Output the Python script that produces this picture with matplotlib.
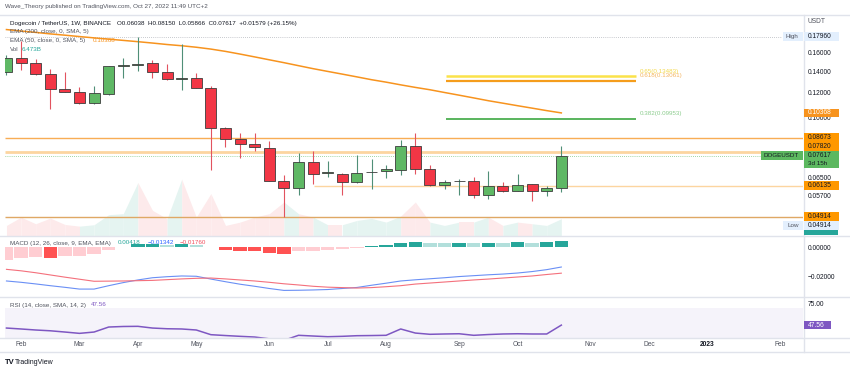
import datetime as dt
import matplotlib
matplotlib.use('Agg')
import matplotlib.pyplot as plt
import matplotlib.transforms as mtransforms
from matplotlib.patches import Rectangle
from matplotlib.lines import Line2D
from matplotlib.ticker import FixedLocator, NullLocator, FixedFormatter
import numpy as np

plt.rcParams['font.family'] = ['Liberation Sans', 'DejaVu Sans']

W, H = 850, 371

# weekly DOGE/USDT (Binance) candles, first bar = week of 2022-01-31
start = dt.date(2022, 1, 31)
opens = [0.1394, 0.1542, 0.1481, 0.1368, 0.1230, 0.1207, 0.1110, 0.1187, 0.1452, 0.1463,
         0.1481, 0.1394, 0.1322, 0.1329, 0.1242, 0.0930, 0.0858, 0.0827, 0.0808, 0.0635,
         0.0603, 0.0728, 0.0672, 0.0669, 0.0630, 0.0676, 0.0681, 0.0689, 0.0815, 0.0691,
         0.0618, 0.0633, 0.0635, 0.0575, 0.0611, 0.0590, 0.0620, 0.0589, 0.06038]
highs = [0.1572, 0.1740, 0.1528, 0.1421, 0.1394, 0.1251, 0.1257, 0.1458, 0.1535, 0.1796,
         0.1517, 0.1470, 0.1702, 0.1378, 0.1257, 0.0935, 0.0900, 0.0894, 0.0845, 0.0661,
         0.0777, 0.0786, 0.0732, 0.0671, 0.0768, 0.0742, 0.0711, 0.0851, 0.0897, 0.0714,
         0.0641, 0.0646, 0.0653, 0.0682, 0.0630, 0.0669, 0.0623, 0.0612, 0.08150]
lows = [0.1361, 0.1411, 0.1361, 0.1070, 0.1204, 0.1102, 0.1102, 0.1178, 0.1329, 0.1404,
        0.1335, 0.1313, 0.1221, 0.1237, 0.0686, 0.0811, 0.0749, 0.0786, 0.0633, 0.04914,
        0.0575, 0.0623, 0.0653, 0.0575, 0.0627, 0.0601, 0.0650, 0.0665, 0.0669, 0.0612,
        0.0601, 0.0575, 0.0561, 0.0556, 0.0587, 0.0589, 0.0549, 0.0570, 0.05866]
closes = [0.1542, 0.1481, 0.1368, 0.1230, 0.1208, 0.1110, 0.1193, 0.1452, 0.1463, 0.1479,
          0.1394, 0.1319, 0.1329, 0.1242, 0.0930, 0.0858, 0.0827, 0.0811, 0.0635, 0.0603,
          0.0728, 0.0669, 0.0676, 0.0630, 0.0674, 0.0679, 0.0691, 0.0815, 0.0691, 0.0615,
          0.0630, 0.0636, 0.0572, 0.0611, 0.0590, 0.0618, 0.0589, 0.0603, 0.07617]
volume_b = [3.88, 7.09, 4.53, 6.71, 4.26, 3.60, 4.15, 8.02, 8.41, 20.43,
            9.69, 6.47, 21.71, 7.09, 16.16, 3.88, 5.16, 7.09, 8.41, 12.91,
            8.41, 7.09, 4.15, 4.15, 5.81, 6.59, 5.16, 7.48, 12.91, 5.16,
            3.88, 5.16, 5.16, 7.09, 3.88, 5.16, 4.53, 3.88, 6.473]
ema50 = [0.1890, 0.1870, 0.1852, 0.1832, 0.1815, 0.1797, 0.1780, 0.1764, 0.1748, 0.1732,
         0.1715, 0.1697, 0.1682, 0.1664, 0.1642, 0.1615, 0.1584, 0.1552, 0.1520, 0.1489,
         0.1457, 0.1426, 0.1398, 0.1371, 0.1344, 0.1317, 0.1294, 0.1269, 0.1246, 0.1225,
         0.1201, 0.1178, 0.1155, 0.1132, 0.1112, 0.1092, 0.1073, 0.1054, 0.10368]
macd_line = [-0.0229, -0.0238, -0.0249, -0.0261, -0.0272, -0.0284, -0.0284, -0.0261, -0.0240, -0.0222,
             -0.0207, -0.0200, -0.0195, -0.0197, -0.0216, -0.0234, -0.0251, -0.0265, -0.0280, -0.0293,
             -0.0292, -0.0290, -0.0287, -0.0280, -0.0273, -0.0258, -0.0244, -0.0229, -0.0221, -0.0214,
             -0.0207, -0.0199, -0.0193, -0.0187, -0.0182, -0.0175, -0.0165, -0.0152, -0.01342]
macd_signal = [-0.0150, -0.0160, -0.0173, -0.0188, -0.0203, -0.0217, -0.0231, -0.0230, -0.0229, -0.0227,
               -0.0225, -0.0220, -0.0215, -0.0211, -0.0209, -0.0215, -0.0222, -0.0229, -0.0238, -0.0248,
               -0.0256, -0.0265, -0.0271, -0.0274, -0.0277, -0.0274, -0.0268, -0.0261, -0.0250, -0.0243,
               -0.0236, -0.0229, -0.0222, -0.0216, -0.0209, -0.0202, -0.0195, -0.0185, -0.01760]
macd_hist = [-0.0084, -0.0073, -0.0068, -0.0071, -0.0061, -0.0060, -0.0045, -0.0020, 0.0003, 0.0020,
             0.0021, 0.0015, 0.0023, 0.0014, 0.0002, -0.0016, -0.0027, -0.0028, -0.0041, -0.0045,
             -0.0027, -0.0023, -0.0018, -0.0011, -0.0005, 0.0007, 0.0014, 0.0032, 0.0033, 0.0027,
             0.0026, 0.0032, 0.0029, 0.0032, 0.0029, 0.0033, 0.0031, 0.0034, 0.00418]
rsi = [43.8, 42.6, 41.3, 40.3, 38.7, 37.0, 38.7, 45.1, 45.8, 46.0,
       43.8, 42.9, 42.6, 41.3, 35.3, 34.2, 33.2, 32.3, 30.0, 28.0,
       34.5, 33.6, 32.7, 33.2, 34.0, 34.2, 34.5, 42.6, 37.4, 35.8,
       36.2, 36.5, 34.5, 35.5, 36.2, 36.5, 36.2, 36.2, 47.56]

# horizontal support / resistance levels and fib retracements
levels = [0.08673, 0.07820, 0.06135, 0.04914]
fib_names = ['0.65', '0.618', '0.382']
fib_values = [0.13483, 0.13061, 0.09953]
price_ticks = [0.16, 0.14, 0.12, 0.10, 0.065, 0.057]

opens, highs, lows, closes = map(np.array, (opens, highs, lows, closes))
idx = np.arange(len(closes))
up = closes >= opens
XLIM = (-0.1, 54.55)
FS = 4.5      # legend text size
AFS = 4.8     # price scale text size

fig = plt.figure(figsize=(8.5, 3.71), dpi=100)


def rect(x0, y0, x1, y1):
    return [x0 / W, 1 - y1 / H, (x1 - x0) / W, (y1 - y0) / H]


def ftxt(x, y, s, **kw):
    kw.setdefault('fontsize', FS)
    kw.setdefault('va', 'center')
    return fig.text(x / W, 1 - y / H, s, **kw)


def ypx(axis, value):
    return H - axis.transData.transform((0, value))[1]


def box(x0, ymid, w, h, fc, text=None, tc='#131722', tx=4.5, fs=AFS):
    fig.add_artist(Rectangle((x0 / W, 1 - (ymid + h / 2) / H), w / W, h / H,
                             transform=fig.transFigure, fc=fc, ec='none', zorder=5))
    if text:
        t = ftxt(x0 + tx, ymid, text, color=tc, fontsize=fs)
        t.set_zorder(6)


def clean(a):
    for s in a.spines.values():
        s.set_visible(False)
    a.set_xlim(XLIM)
    a.set_xticks([])


# ---- main pane ----
ax_vol = fig.add_axes(rect(5, 15, 803, 235.5))
ax = fig.add_axes(rect(5, 15, 803, 235.5))
ax.patch.set_alpha(0)

for i in range(1, len(volume_b)):
    c = '#e5f4f1' if up[i] else '#fdeaeb'
    ax_vol.fill_between([i - 1, i], [volume_b[i - 1], volume_b[i]], 0, color=c, lw=0)
ax_vol.set_xlim(XLIM)
ax_vol.set_ylim(0, 85)
ax_vol.axis('off')

ax.set_yscale('log')
ax.hlines(levels, [XLIM[0], XLIM[0], 21.05, XLIM[0]], XLIM[1],
          colors=['#f8ad55', '#fcd5a0', '#fcd5a0', '#dfa865'], lw=[1.0, 2.0, 1.0, 1.0], zorder=1)
ax.hlines(fib_values, 30.1, 43.1, colors=['#fbe24a', '#f59d1c', '#4caf50'], lw=[1.8, 1.6, 1.3], zorder=1)
lab_tr = ax.transData + mtransforms.ScaledTranslation(0, 0.052, fig.dpi_scale_trans)
for n, v, c in zip(fib_names, fib_values, ['#f3d84c', '#f4b460', '#8ccc8e']):
    ax.text(43.4, v, f'{n}({v:.5f})', color=c, fontsize=FS, va='center', transform=lab_tr)

ax.hlines(highs.max(), XLIM[0], 53.1, colors='#9598a1', lw=0.5, linestyles=(0, (1, 2)))
ax.axhline(closes[-1], color='#4caf50', lw=0.5, ls=(0, (1, 2)))

ax.plot(idx, ema50, color='#f7931e', lw=1.1, zorder=2)

ax.vlines(idx, lows, highs, colors=np.where(up, '#4f8f77', '#e2535f'), lw=0.8, zorder=3)
ax.bar(idx, np.abs(closes - opens), bottom=np.minimum(opens, closes), width=0.76,
       color=np.where(up, '#5fb865', '#f23645'), edgecolor='#3c3c3c', linewidth=0.6, zorder=4)

ax.set_ylim(0.04287, 0.2099)
clean(ax)
ax.yaxis.tick_right()
ax.yaxis.set_major_locator(FixedLocator(price_ticks))
ax.yaxis.set_major_formatter(FixedFormatter([f'{v:.5f}' for v in price_ticks]))
ax.yaxis.set_minor_locator(NullLocator())
ax.tick_params(axis='y', length=0, pad=3.6, labelsize=AFS, labelcolor='#131722')

# ---- MACD pane ----
axm = fig.add_axes(rect(5, 236.5, 803, 296))
hcols = []
for i, h in enumerate(macd_hist):
    prev = macd_hist[i - 1] if i else h
    if h >= 0:
        hcols.append('#26a69a' if h >= prev else '#b2dfdb')
    else:
        hcols.append('#ff5252' if h < prev else '#ffcdd2')
axm.bar(idx, macd_hist, width=0.92, color=hcols, lw=0)
axm.plot(idx, macd_line, color='#6a8ff5', lw=0.8)
axm.plot(idx, macd_signal, color='#f4707c', lw=0.8)
axm.set_ylim(-0.0331, 0.0073)
clean(axm)
axm.yaxis.tick_right()
axm.set_yticks([0, -0.02], ['0.00000', '\u22120.02000'])
axm.tick_params(axis='y', length=0, pad=3.6, labelsize=AFS, labelcolor='#131722')

# ---- RSI pane ----
axr = fig.add_axes(rect(5, 297.5, 803, 337.5))
axr.axhspan(30, 70, color='#7e57c2', alpha=0.07, lw=0)
axr.plot(idx, rsi, color='#7e57c2', lw=1.1)
axr.set_ylim(31.7, 82.9)
clean(axr)
axr.yaxis.tick_right()
axr.set_yticks([75], ['75.00'])
axr.tick_params(axis='y', length=0, pad=3.6, labelsize=AFS, labelcolor='#131722')

weeks = [start + dt.timedelta(weeks=k) for k in range(56)]
tick_pos, tick_lab = [], []
for k in range(1, len(weeks)):
    if weeks[k].month != weeks[k - 1].month:
        tick_pos.append(k)
        tick_lab.append(str(weeks[k].year) if weeks[k].month == 1 else weeks[k].strftime('%b'))
axr.set_xticks(tick_pos, tick_lab)
axr.tick_params(axis='x', length=0, pad=2.6, labelsize=AFS, labelcolor='#50535e')
for t in axr.get_xticklabels():
    if t.get_text().isdigit():
        t.set_fontweight('bold')
        t.set_color('#131722')

# ---- frame lines ----
for y in (14.5, 236, 297, 337.5, 352):
    fig.add_artist(Line2D([0, 1], [1 - y / H] * 2, transform=fig.transFigure, color='#e0e3eb', lw=1))
fig.add_artist(Line2D([803.5 / W] * 2, [1 - 14.5 / H, 1 - 352 / H], transform=fig.transFigure,
                      color='#e0e3eb', lw=1))

# ---- price scale tags ----
ftxt(808, 21.7, 'USDT', color='#50535e', fontsize=AFS)
y_hi = ypx(ax, highs.max())
box(783, y_hi, 19.5, 8.5, '#e3effd', 'High', tc='#50535e', tx=2.5, fs=FS)
box(803.5, y_hi, 35, 8.5, '#e3effd', f'{highs.max():.5f}')
box(803.5, ypx(ax, ema50[-1]), 35, 8.5, '#f7931e', f'{ema50[-1]:.5f}', tc='white')
box(803.5, ypx(ax, levels[0]), 35, 8.5, '#ff9800', f'{levels[0]:.5f}')
box(803.5, ypx(ax, levels[1]) - 5.7, 35, 8.5, '#ff9800', f'{levels[1]:.5f}')
y_c = ypx(ax, closes[-1])
box(761, y_c, 42, 8.5, '#5cb860', 'DOGEUSDT', tx=3, fs=FS)
box(803.5, y_c + 4, 35, 16.5, '#5cb860')
ftxt(808, y_c, f'{closes[-1]:.5f}', color='#131722', fontsize=AFS, zorder=6)
ftxt(808, y_c + 8, '3d 15h', color='#131722', fontsize=FS, zorder=6)
box(803.5, ypx(ax, levels[2]), 35, 8.5, '#ff9800', f'{levels[2]:.5f}')
box(803.5, ypx(ax, levels[3]), 35, 8.5, '#ff9800', f'{levels[3]:.5f}')
y_lo = ypx(ax, lows.min()) + 9
box(783, y_lo, 19.5, 8.5, '#e3effd', 'Low', tc='#50535e', tx=4, fs=FS)
box(803.5, y_lo, 35, 8.5, '#e3effd', f'{lows.min():.5f}')
box(803.5, 232.5, 34, 5.5, '#26a69a')
box(803.5, ypx(axr, rsi[-1]), 27, 8.5, '#7e57c2', f'{rsi[-1]:.2f}', tc='white', tx=4)

# ---- legends ----
ftxt(5, 6.5, 'Wave_Theory published on TradingView.com, Oct 27, 2022 11:49 UTC+2', color='#50535e')
ftxt(10, 23, 'Dogecoin / TetherUS, 1W, BINANCE', color='#131722')
ftxt(117, 23, f'O{opens[-1]:.5f}  H{highs[-1]:.5f}  L{lows[-1]:.5f}  C{closes[-1]:.5f}  '
              f'+{closes[-1] - opens[-1]:.5f} (+{(closes[-1] / opens[-1] - 1) * 100:.2f}%)', color='#131722')
ftxt(10, 32, 'EMA (200, close, 0, SMA, 5)', color='#50535e')
ftxt(10, 40.7, 'EMA (50, close, 0, SMA, 5)', color='#50535e')
ftxt(93, 40.7, f'{ema50[-1]:.5f}', color='#f7931e')
ftxt(10, 49.3, 'Vol', color='#50535e')
ftxt(22, 49.3, f'{volume_b[-1]:.3f}B', color='#26a69a')
ftxt(10, 243, 'MACD (12, 26, close, 9, EMA, EMA)', color='#50535e')
ftxt(118, 243, f'{macd_hist[-1]:.5f}', color='#26a69a')
ftxt(148, 243, f'{macd_line[-1]:.5f}'.replace('-', '\u2212'), color='#2962ff')
ftxt(180, 243, f'{macd_signal[-1]:.5f}'.replace('-', '\u2212'), color='#f0505e')
ftxt(10, 305, 'RSI (14, close, SMA, 14, 2)', color='#50535e')
ftxt(91, 305, f'{rsi[-1]:.2f}', color='#7e57c2')

ftxt(5, 362, 'TV', color='#131722', fontweight='bold', fontsize=5.5)
ftxt(15, 362, 'TradingView', color='#131722', fontsize=5)

fig.savefig('out.png', dpi=100)
